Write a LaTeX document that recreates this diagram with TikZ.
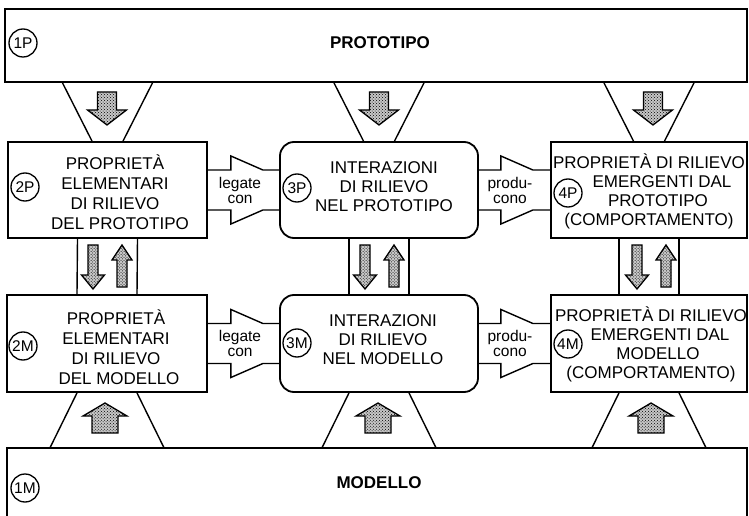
\documentclass[tikz,border=0pt]{standalone}
\usepackage{fontspec}
\setmainfont{Liberation Sans}
\usetikzlibrary{calc,patterns}
\begin{document}
\begin{tikzpicture}[x=1bp,y=-1bp,
  frame/.style={line width=1.8bp},
  box/.style={draw,frame,inner sep=0pt,rectangle},
  rbox/.style={box,rounded corners=14bp},
  boxtext/.style={align=center,inner sep=0pt,font=\fontsize{17bp}{20bp}\selectfont},
  boxtextb/.style={align=center,inner sep=0pt,font=\fontsize{17bp}{19bp}\selectfont},
  tag/.style={circle,draw,line width=1.3bp,minimum size=28bp,inner sep=0pt,font=\fontsize{15.5bp}{16bp}\selectfont},
  lnk/.style={line width=1.4bp},
  stip/.style={draw,line width=1.3bp,fill=black!22,postaction={pattern=crosshatch dots},line join=miter},
  smalltext/.style={align=center,inner sep=0pt,font=\fontsize{15.5bp}{15bp}\selectfont},
  titletext/.style={inner sep=0pt,font=\bfseries\fontsize{17bp}{20bp}\selectfont},
  dnbig/.pic={\path[stip] (-9.5,-16.5) -- (9.5,-16.5) -- (9.5,1.5) -- (19.5,1.5) -- (0,16.5) -- (-19.5,1.5) -- (-9.5,1.5) -- cycle;},
  dnsmall/.pic={\path[stip] (-5,-22) -- (5,-22) -- (5,8) -- (11.5,8) -- (0,22) -- (-11.5,8) -- (-5,8) -- cycle;},
  upsmall/.pic={\path[stip] (-5,21) -- (5,21) -- (5,-6) -- (10,-6) -- (0,-21) -- (-10,-6) -- (-5,-6) -- cycle;},
  upbig/.pic={\path[stip] (-13,15) -- (13,15) -- (13,-2) -- (22,-2) -- (0,-15) -- (-22,-2) -- (-13,-2) -- cycle;}
]
\useasboundingbox (0,0) rectangle (749,516);

% big boxes
\node[box,minimum width=742bp,minimum height=73bp] (p1) at (376,45.5) {};
\node[titletext] (tp1) at (380,43) {PROTOTIPO};
\node[tag] (c1p) at (23,43) {1P};

\node[inner sep=0pt,minimum width=740bp,minimum height=68bp] (m1) at (377,482) {};
\draw[frame] (m1.south west) |- (m1.north east) -- (m1.south east);
\node[titletext] (tm1) at (379,483) {MODELLO};
\node[tag] (c1m) at (25,488) {1M};

% row boxes
\node[box,minimum width=199bp,minimum height=96bp] (p2) at (107.5,190) {};
\node[rbox,minimum width=198bp,minimum height=96bp] (p3) at (379,190) {};
\node[box,minimum width=196bp,minimum height=96bp] (p4) at (649,190) {};
\node[box,minimum width=200bp,minimum height=97bp] (m2) at (107,343.5) {};
\node[rbox,minimum width=198bp,minimum height=97bp] (m3) at (379,343.5) {};
\node[box,minimum width=196bp,minimum height=97bp] (m4) at (649,343.5) {};

% texts
\node[boxtext] (t2p) at (115,192) {PROPRIETÀ\\ELEMENTARI\\DI RILIEVO\\\hspace*{10bp}DEL PROTOTIPO};
\node[boxtext] (t2m) at (116,347) {PROPRIETÀ\\ELEMENTARI\\DI RILIEVO\\\hspace*{6bp}DEL MODELLO};
\node[boxtextb] (t3p) at (384,187) {INTERAZIONI\\DI RILIEVO\\NEL PROTOTIPO};
\node[boxtextb] (t3m) at (383,340) {INTERAZIONI\\DI RILIEVO\\NEL MODELLO};
\node[boxtextb] (t4p) at (649,191) {PROPRIETÀ DI RILIEVO\\\hspace*{26bp}EMERGENTI DAL\\\hspace*{18bp}PROTOTIPO\\(COMPORTAMENTO)};
\node[boxtextb] (t4m) at (651,344) {PROPRIETÀ DI RILIEVO\\\hspace*{18bp}EMERGENTI DAL\\\hspace*{14bp}MODELLO\\(COMPORTAMENTO)};

% tags
\node[tag] (c2p) at (25,187) {2P};
\node[tag] (c3p) at (297,188) {3P};
\node[tag] (c4p) at (568,193) {4P};
\node[tag] (c2m) at (23,346) {2M};
\node[tag] (c3m) at (297,343) {3M};
\node[tag] (c4m) at (568,344) {4M};

% horizontal band arrows
\foreach \a/\b/\h in {p2/p3/23, p3/p4/22, m2/m3/23, m3/m4/22}{
  \draw[lnk] ($(\a.east)+(0,-20)$) -- ++(\h,0) -- ++(0,-14) -- ++(32,14) -- ($(\b.west)+(0,-20)$);
  \draw[lnk] ($(\a.east)+(0,20)$) -- ++(\h,0) -- ++(0,14) -- ++(32,-14) -- ($(\b.west)+(0,20)$);
}
\node[smalltext] (l1) at (240,190) {legate\\con};
\node[smalltext] (l2) at (510,190) {produ-\\cono};
\node[smalltext] (l3) at (240,343.5) {legate\\con};
\node[smalltext] (l4) at (510,343.5) {produ-\\cono};

% vertical connectors between rows
\foreach \a/\b in {p2/m2, p3/m3, p4/m4}{
  \draw[lnk] ($(\a.south)+(-30,0)$) -- ($(\b.north)+(-30,0)$);
  \draw[lnk] ($(\a.south)+(30,0)$) -- ($(\b.north)+(30,0)$);
}
% top trapezoids
\foreach \a in {p2,p3,p4}{
  \draw[lnk] ($(p1.south -| \a.north)+(-45,0)$) -- ($(\a.north)+(-15.5,0)$);
  \draw[lnk] ($(p1.south -| \a.north)+(45,0)$) -- ($(\a.north)+(15.5,0)$);
}
% bottom trapezoids
\foreach \a in {m2,m3,m4}{
  \draw[lnk] ($(\a.south)+(-30,0)$) -- ($(m1.north -| \a.south)+(-57,0)$);
  \draw[lnk] ($(\a.south)+(30,0)$) -- ($(m1.north -| \a.south)+(57,0)$);
}

% stippled arrows
\pic at (107,108.5) {dnbig};
\pic at (379,108.5) {dnbig};
\pic at (653,108.5) {dnbig};
\pic at (93,267) {dnsmall};
\pic at (122,266) {upsmall};
\pic at (365,267) {dnsmall};
\pic at (394,266) {upsmall};
\pic at (637,267) {dnsmall};
\pic at (666,266) {upsmall};
\pic at (105,418) {upbig};
\pic at (378,418) {upbig};
\pic at (651,418) {upbig};
\end{tikzpicture}
\end{document}
